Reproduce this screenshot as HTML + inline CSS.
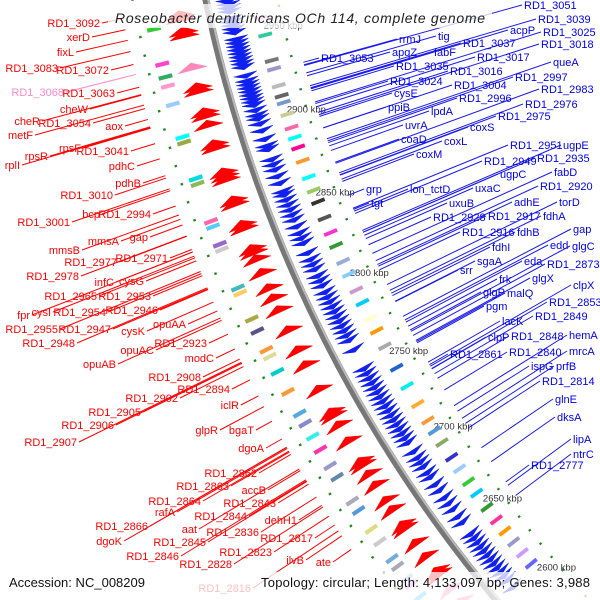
<!DOCTYPE html>
<html><head><meta charset="utf-8"><style>
html,body{margin:0;padding:0;background:#fff;width:600px;height:600px;overflow:hidden;}
svg{display:block;font-family:"Liberation Sans",sans-serif;overflow:hidden;}
</style></head><body>
<svg id="map" width="600" height="600" viewBox="0 0 600 600">
<g id="back"></g>
<g id="genes"></g>
<g id="lbl"></g>
<rect x="108" y="4" width="384" height="24" fill="#fff" opacity="0.75"/>
<text x="115" y="23" font-size="14" font-style="italic" fill="#222" textLength="370" lengthAdjust="spacing">Roseobacter denitrificans OCh 114, complete genome</text>
<rect x="0" y="572" width="600" height="28" fill="#fff" opacity="0.75"/>
<text x="9" y="587" font-size="13" fill="#111" textLength="136" lengthAdjust="spacing">Accession: NC_008209</text>
<text x="261" y="587" font-size="13" fill="#111" textLength="329" lengthAdjust="spacing">Topology: circular; Length: 4,133,097 bp; Genes: 3,988</text>
</svg>
<script>
// ---- data ----
const tickKbp = [2600,2650,2700,2750,2800,2850,2900,2950];
const tickLabels = ["2600 kbp","2650 kbp","2700 kbp","2750 kbp","2800 kbp","2850 kbp","2900 kbp","2950 kbp"];
const redGenes = [2966,2964,2957,2955,2937,2926,2924,2912,2910,2905,2894,2892,2878,2876,2874,2862,2860,2848,2846,2834,2832,2828,2820,2811,2805,2798,2786,2774,2765,2750,2736,2734,2728,2718,2705,2703,2697,2690,2680,2674,2664,2662,2652,2643,2633,2631,2621,2612];
const redGeneColors = ["r","r","r","r","p","r","r","r","r","r","r","r","r","r","r","r","r","r","r","r","r","r","r","r","r","r","r","r","r","r","r","r","r","r","r","r","r","r","r","r","r","r","r","r","r","r","p","p"];
const blueGenes = [2972,2970,2968,2966,2964,2962,2958,2956,2954,2952,2950,2946,2944,2942,2940,2938,2936,2934,2932,2930,2925,2922,2920,2918,2916,2914,2912,2910,2908,2905,2902,2900,2897,2893,2888,2884,2882,2876,2873,2870,2866,2862,2857,2855,2852,2849,2846,2843,2840,2836,2832,2829,2826,2820,2816,2813,2810,2806,2803,2800,2796,2793,2790,2787,2784,2781,2778,2775,2772,2769,2766,2760,2748,2745,2742,2739,2736,2733,2730,2727,2724,2721,2718,2715,2712,2709,2706,2703,2700,2694,2690,2687,2684,2680,2677,2672,2668,2663,2659,2655,2650,2646,2638,2635,2632,2629,2626,2623,2620,2617,2614,2611,2608,2605,2600];
const outerBoxKbp = [2962,2943,2936,2931,2921,2903,2900,2880,2877,2856,2853,2843,2840,2818,2815,2800,2793,2782,2778,2769,2757,2744,2738,2730,2722,2712,2705,2690,2684,2672,2664,2653,2648,2640,2636,2628,2620,2612];
const outerBoxColors = ["#3c3","#f4c","#3a6","#f9c","#9cf","#0ff","#9a4","#0dd","#8b5","#f6a","#5cf","#96c","#ccc","#4bb","#fc6","#aa4","#558","#f93","#dd9","#0cc","#f93","#5ad","#88c","#3ee","#f3a","#99c","#68a","#aab","#59d","#dd8","#ccc","#7ad","#aab","#9bd","#d8f","#4cf","#99f","#cce"];
const innerBoxKbp = [2969,2955,2945,2930,2925,2915,2909,2905,2898,2890,2884,2878,2870,2860,2852,2845,2835,2826,2818,2808,2800,2790,2782,2772,2764,2754,2740,2728,2716,2705,2698,2690,2680,2672,2663,2655,2645,2636,2628,2620,2612,2604];
const innerBoxColors = ["#3cc","#f9c","#3c9","#777","#99c","#bbb","#666","#79c","#cc9","#f6a","#0ff","#f09","#f93","#0ff","#9c6","#333","#555","#f3c","#393","#9ad","#8cf","#c9c","#0cf","#ffc","#f90","#aaa","#26c","#0ee","#fa3","#f93","#59d","#8a6","#33c","#9cf","#3c3","#0cf","#393","#f39","#f90","#99c","#c9f","#66f"];
const blueLabels = ["RD1_3051","RD1_3039","acpP","RD1_3025","RD1_3018","tig","rrmJ","RD1_3037","apqZ","fabF","RD1_3053","RD1_3017","RD1_3035","RD1_3016","queA","RD1_2997","RD1_3024","RD1_3004","RD1_2983","cysE","RD1_2996","RD1_2976","ppiB","lpdA","RD1_2975","uvrA","coxS","coaD","coxL","coxM","RD1_2951","ugpE","RD1_2935","RD1_2949","grp","lon_tctD","uxaC","ugpC","fabD","tgt","RD1_2920","adhE","torD","uxuB","RD1_2928","RD1_2917","fdhA","RD1_2916","fdhB","gap","fdhI","edd","glgC","sgaA","eda","RD1_2873","srr","frk","glgX","clpX","glgP","malQ","pgm","RD1_2853","lacK","RD1_2849","clpP","RD1_2848","hemA","RD1_2861","RD1_2840","mrcA","ispG","prfB","RD1_2814","glnE","dksA","lipA","ntrC","RD1_2777"];
const blueLabelX = [524,538,510,543,541,438,399,463,392,434,321,477,396,450,553,515,390,454,541,394,459,525,388,431,498,405,470,401,444,416,510,563,537,484,366,410,475,500,554,371,540,514,559,449,433,488,543,462,517,573,492,550,572,477,524,547,460,499,532,573,483,507,486,549,502,535,488,511,569,450,509,569,531,556,542,555,557,573,573,531];
const blueLabelY = [9,23,34,36,48,40,43,47,56,56,62,61,70,75,66,81,85,89,93,97,102,108,111,115,120,129,131,143,145,158,149,149,162,165,193,193,192,178,176,207,190,206,206,207,221,220,220,236,236,233,251,249,250,265,265,268,274,283,282,289,296,297,310,306,325,320,341,340,339,358,356,355,370,370,385,403,421,443,458,469];
const redLabels = ["RD1_3092","xerD","fixL","RD1_3083","RD1_3072","RD1_3068","RD1_3063","cheW","cheR","RD1_3054","metF","aox","rpsF","RD1_3041","rpsR","rplI","pdhC","pdhB","RD1_3010","bcp","RD1_2994","RD1_3001","mmsA","gap","mmsB","RD1_2971","RD1_2977","RD1_2978","infC","cysG","RD1_2965","RD1_2953","fpr","cysI","RD1_2954","RD1_2946","RD1_2955","RD1_2947","cysK","opuAA","RD1_2948","opuAC","RD1_2923","opuAB","modC","RD1_2908","RD1_2894","RD1_2902","iclR","RD1_2905","RD1_2906","glpR","bgaT","RD1_2907","dgoA","RD1_2862","RD1_2863","accB","RD1_2864","RD1_2843","rafA","RD1_2844","RD1_2866","aat","RD1_2836","dehH1","dgoK","RD1_2845","RD1_2817","RD1_2823","RD1_2846","ilvB","ate","RD1_2828","RD1_2816"];
const redLabelX = [100,90,74,58,109,64,115,88,40,91,33,123,81,129,48,20,135,141,113,100,151,70,119,148,80,168,117,79,114,144,97,151,30,51,106,158,58,111,145,186,75,154,207,116,214,201,230,178,239,141,114,218,254,77,264,257,229,266,201,276,175,247,148,197,259,297,122,206,313,272,179,304,331,232,251];
const redLabelY = [27,41,56,72,74,96,97,113,125,127,139,130,152,155,160,169,170,187,199,218,218,226,245,241,254,262,266,280,286,285,300,300,319,316,316,314,333,333,335,328,347,354,347,368,362,381,393,402,409,416,429,434,434,446,452,477,490,494,505,507,516,520,530,533,536,524,545,546,542,556,560,564,566,568,592];

// ---- geometry ----
const CX = 1552, CY = -281, R = 1375;
function ang(k){ return (166.5 - (2950 - k) * 0.0757) * Math.PI / 180; }
function P(k, r){ const t = ang(k); return [CX + r*Math.cos(t), CY + r*Math.sin(t)]; }
const NS = "http://www.w3.org/2000/svg";
function mk(tag, parent){ const e = document.createElementNS(NS, tag); parent.appendChild(e); return e; }
const back = document.getElementById('back'), genes = document.getElementById('genes'), lbl = document.getElementById('lbl');

let d = "";
for (let k = 2560; k <= 2990; k += 2){ const p = P(k, R); d += (k === 2560 ? "M" : "L") + p[0].toFixed(1) + "," + p[1].toFixed(1); }
const bb = mk('path', back);


bb.setAttribute('d', d); bb.setAttribute('fill', 'none'); bb.setAttribute('stroke', '#777'); bb.setAttribute('stroke-width', '7');
const bb2 = mk('path', back);


bb2.setAttribute('d', d); bb2.setAttribute('fill', 'none'); bb2.setAttribute('stroke', '#bbb'); bb2.setAttribute('stroke-width', '2'); bb2.setAttribute('transform', 'translate(2,-1)');

for (let k = 2560; k <= 2990; k += 10){
  [[R+72, R+78], [R-70, R-64]].forEach(function(rr){
    const a = P(k, rr[0]), b = P(k+1.2, rr[0]);
    const l = mk('line', back);
    
    
    l.setAttribute('x1', a[0]); l.setAttribute('y1', a[1]); l.setAttribute('x2', b[0]); l.setAttribute('y2', b[1]);
    l.setAttribute('stroke', '#1a8a1a'); l.setAttribute('stroke-width', '2.5');
  });
}
tickKbp.forEach(function(k, i){
  const p = P(k, 1325);
  const t = mk('text', back);
  
  
  t.setAttribute('x', p[0]); t.setAttribute('y', p[1]); t.setAttribute('font-size', '9.5'); t.setAttribute('fill', '#333');
  t.textContent = tickLabels[i];
});

function box(k, r1, r2, col, name){
  const a = P(k, r1), b = P(k+2.2, r1), c = P(k+2.2, r2), e = P(k, r2);
  const pg = mk('polygon', genes);
  
  
  pg.setAttribute('points', [a,b,c,e].map(function(p){return p[0].toFixed(1)+","+p[1].toFixed(1);}).join(" "));
  pg.setAttribute('fill', col);
}
outerBoxKbp.forEach(function(k, i){ box(k, R+50, R+64, outerBoxColors[i], 'outer-feature-box'); });
innerBoxKbp.forEach(function(k, i){ box(k, R-57, R-43, innerBoxColors[i], 'inner-feature-box'); });

function arrow(k, len, r1, r2, up, col, name){
  const rm = (r1 + r2) / 2;
  let pts;
  if (up) pts = [P(k, r1), P(k, r2), P(k+len, rm)];
  else pts = [P(k+len, r1), P(k+len, r2), P(k, rm)];
  const pg = mk('polygon', genes);
  
  
  pg.setAttribute('points', pts.map(function(p){return p[0].toFixed(1)+","+p[1].toFixed(1);}).join(" "));
  pg.setAttribute('fill', col); pg.setAttribute('stroke', col); pg.setAttribute('stroke-width', '0.5');
}
redGenes.forEach(function(k, i){
  arrow(k, 4, R+14, R+44, true, redGeneColors[i] === 'p' ? '#ff88bb' : '#ff0000', 'forward-gene-arrow');
});
blueGenes.forEach(function(k){
  arrow(k, 2.6, R-33, R-9, false, '#1020ee', 'reverse-gene-arrow');
});

function leader(x, y, rTarget, col, name){
  const dx = x - CX, dy = y - CY, dist = Math.sqrt(dx*dx + dy*dy);
  const ax = CX + dx * rTarget / dist, ay = CY + dy * rTarget / dist;
  const l = mk('line', lbl);
  
  
  l.setAttribute('x1', x); l.setAttribute('y1', y); l.setAttribute('x2', ax); l.setAttribute('y2', ay);
  l.setAttribute('stroke', col); l.setAttribute('stroke-width', '1');
}
blueLabels.forEach(function(s, i){
  leader(blueLabelX[i] - 2, blueLabelY[i] - 4, R - 80, '#1a1aee', 'reverse-gene-leader');
  const t = mk('text', lbl);
  
  
  t.setAttribute('x', blueLabelX[i]); t.setAttribute('y', blueLabelY[i]);
  t.setAttribute('font-size', '11'); t.setAttribute('fill', '#0000ee');
  t.textContent = s;
});
redLabels.forEach(function(s, i){
  const col = s === 'RD1_3068' ? '#ff88cc' : '#ff0000';
  leader(redLabelX[i] + 2, redLabelY[i] - 4, R + 85, col, 'forward-gene-leader');
  const t = mk('text', lbl);
  
  
  t.setAttribute('x', redLabelX[i]); t.setAttribute('y', redLabelY[i]);
  t.setAttribute('text-anchor', 'end');
  t.setAttribute('font-size', '11'); t.setAttribute('fill', col);
  t.textContent = s;
});
</script>
</body></html>
